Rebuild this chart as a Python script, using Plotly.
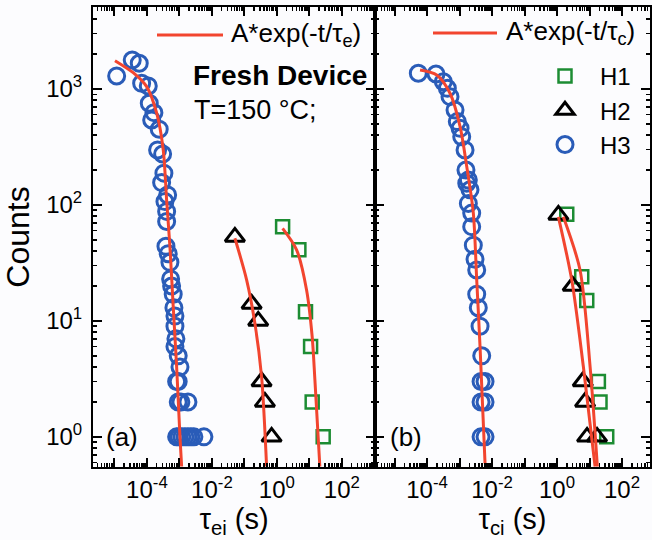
import plotly.graph_objects as go

# ---------------- data ----------------
# Panel (a): emission times tau_ei (s) vs counts
a_h3_t = [1.17e-5, 3.53e-5, 5.8e-5, 6.87e-5, 1.1e-4, 1.18e-4, 1.64e-4, 1.4e-4, 2.39e-4, 2.13e-4,
          3.04e-4, 3.33e-4, 2.83e-4, 4.34e-4, 3.58e-4, 4.04e-4, 4.04e-4, 3.85e-4, 4.52e-4, 5.1e-4,
          5.36e-4, 5.75e-4, 6.44e-4, 6.77e-4, 7.28e-4, 7.28e-4, 7.8e-4, 7.28e-4, 9.18e-4, 1.04e-3,
          9.18e-4, 8.2e-4,
          9.2e-4, 1.11e-3, 1.83e-3,
          8.2e-4, 9.66e-4, 1.19e-3, 1.48e-3, 1.83e-3, 2.26e-3, 2.79e-3, 5.68e-3]
a_h3_c = [1294, 1778, 1667, 1119, 1062, 753, 625, 541, 450, 298,
          275, 188, 156, 122, 107, 88, 72, 44, 38, 32,
          23, 20, 17, 13, 11, 9, 7, 6, 5, 4,
          3, 3,
          2, 2, 2,
          1, 1, 1, 1, 1, 1, 1, 1]
a_h2_t = [0.051, 0.167, 0.266, 0.338, 0.428, 0.687]
a_h2_c = [53, 14, 10, 3, 2, 1]
a_h1_t = [1.5, 4.75, 7.6, 10.9, 12.2, 26.6]
a_h1_c = [65, 41, 12, 6, 2, 1]

# fitted curves in panel (a)
a_fit3_t = [1.04e-5, 3.78e-5, 9.8e-5, 1.99e-4, 3.18e-4, 4.04e-4, 5.1e-4, 6.44e-4, 8.2e-4, 1.04e-3, 1.17e-3]
a_fit3_c = [1754, 1381, 1047, 621, 298, 110, 43.7, 13.3, 4.04, 1.0, 0.555]
a_fit2_t = [0.051, 0.117, 0.21, 0.338, 0.482]
a_fit2_c = [51.6, 22.6, 9.6, 3.3, 0.555]
a_fit1_t = [1.5, 4.04, 8.2, 12.2, 14.8, 21.0]
a_fit1_c = [62.7, 41, 18.5, 7.3, 3.1, 0.555]

# Panel (b): capture times tau_ci (s) vs counts
b_h3_t = [5.4e-5, 1.89e-4, 3.18e-4, 4.22e-4, 5.1e-4, 7.28e-4, 8.55e-4, 1.04e-3, 1.17e-3, 1.48e-3,
          1.58e-3, 1.87e-3, 2.1e-3, 1.67e-3, 1.87e-3, 2.37e-3, 2.37e-3, 2.66e-3, 3.0e-3, 3.38e-3,
          3.38e-3, 3.78e-3, 4.28e-3, 4.82e-3,
          4.6e-3, 6.1e-3, 4.6e-3, 6.1e-3, 4.6e-3, 6.1e-3]
b_h3_c = [1366, 1347, 1156, 1014, 859, 659, 523, 458, 388, 298,
          200, 164, 135, 154, 103, 85, 65, 45, 34, 27.5,
          17, 13, 9, 5,
          3, 3, 2, 2, 1, 1]
b_h2_t = [1.1, 3.04, 6.2, 7.3, 8.4, 17.0]
b_h2_c = [82, 20, 3, 2, 1, 1]
b_h1_t = [1.99, 5.75, 8.2, 18.7, 21.0, 33.8]
b_h1_c = [83, 24, 15, 3, 2, 1]

b_fit3_t = [6.1e-5, 1.99e-4, 5.1e-4, 1.04e-3, 1.67e-3, 2.66e-3, 3.38e-3, 4.28e-3, 6.1e-3]
b_fit3_c = [1458, 1321, 918, 473, 214, 85, 22.6, 6.0, 0.59]
b_fit2_t = [1.1, 2.83, 6.45, 14.8]
b_fit2_c = [79, 22.6, 4.04, 0.555]
b_fit1_t = [1.56, 5.1, 10.4, 17.4]
b_fit1_c = [79, 27.5, 4.04, 0.555]

# axis ticks
y_tickvals = [1, 10, 100, 1000]
y_ticktext = ["10<sup>0</sup>", "10<sup>1</sup>", "10<sup>2</sup>", "10<sup>3</sup>"]
x_tickvals = [1e-5, 1e-4, 1e-3, 1e-2, 1e-1, 1, 10, 100, 1000]
x_ticktext = ["", "10<sup>-4</sup>", "", "10<sup>-2</sup>", "", "10<sup>0</sup>", "", "10<sup>2</sup>", ""]

# ---------------- styling ----------------
FONT = "Liberation Sans, Arial, sans-serif"
RED = "#f2452f"
BLUE = "#2a5cb8"
GREEN = "#1c8c33"
BLACK = "#000000"

fig = go.Figure()

def fit(x, y, xa, ya):
    fig.add_trace(go.Scatter(x=x, y=y, mode="lines", line=dict(color=RED, width=3, shape="spline", smoothing=0.8),
                             xaxis=xa, yaxis=ya, showlegend=False, hoverinfo="skip"))

def pts(x, y, xa, ya, sym, color, size, lw, name, show):
    fig.add_trace(go.Scatter(x=x, y=y, mode="markers", name=name, xaxis=xa, yaxis=ya, showlegend=show,
                             legend="legend",
                             marker=dict(symbol=sym, size=size, color=color, line=dict(width=lw, color=color))))

# panel a
pts(a_h1_t, a_h1_c, "x", "y", "square-open", GREEN, 13, 2.5, "H1", False)
pts(a_h2_t, a_h2_c, "x", "y", "triangle-up-open", BLACK, 17, 3, "H2", False)
pts(a_h3_t, a_h3_c, "x", "y", "circle-open", BLUE, 16, 3, "H3", False)
fit(a_fit3_t, a_fit3_c, "x", "y")
fit(a_fit2_t, a_fit2_c, "x", "y")
fit(a_fit1_t, a_fit1_c, "x", "y")
# panel b
pts(b_h1_t, b_h1_c, "x2", "y2", "square-open", GREEN, 13, 2.5, "H1", True)
pts(b_h2_t, b_h2_c, "x2", "y2", "triangle-up-open", BLACK, 17, 3, "H2", True)
pts(b_h3_t, b_h3_c, "x2", "y2", "circle-open", BLUE, 16, 3, "H3", True)
fit(b_fit3_t, b_fit3_c, "x2", "y2")
fit(b_fit2_t, b_fit2_c, "x2", "y2")
fit(b_fit1_t, b_fit1_c, "x2", "y2")

W, H = 652, 540
L, R, T, B = 93, 2, 7, 73
pw = W - L - R
ph = H - T - B
split = 282 / pw

def px(x):
    return (x - L) / pw

def py(y):
    return 1 - (y - T) / ph

axis_common = dict(type="log", showline=True, linecolor="black", linewidth=2, mirror="ticks", automargin=False,
                   ticks="inside", ticklen=9, tickwidth=2, tickcolor="black", showgrid=False, zeroline=False,
                   minor=dict(ticks="inside", ticklen=4, tickwidth=1.5, tickcolor="black", dtick="D1", showgrid=False),
                   tickfont=dict(family=FONT, size=24, color="black"))

xa = dict(axis_common, domain=[0, split], range=[-5.66, 3.02], anchor="y",
          tickmode="array", tickvals=x_tickvals, ticktext=x_ticktext,
          title=dict(text="τ<sub>ei</sub> (s)", font=dict(family=FONT, size=29, color="black"), standoff=2))
xb = dict(axis_common, domain=[split, 1], range=[-5.6, 2.86], anchor="y2",
          tickmode="array", tickvals=x_tickvals, ticktext=x_ticktext,
          title=dict(text="τ<sub>ci</sub> (s)", font=dict(family=FONT, size=29, color="black"), standoff=2))
ya = dict(axis_common, domain=[0, 1], range=[-0.26, 3.707], anchor="x",
          tickmode="array", tickvals=y_tickvals, ticktext=y_ticktext, ticklabelstandoff=4,
          title=dict(text="Counts", font=dict(family=FONT, size=32, color="black"), standoff=8))
yb = dict(axis_common, domain=[0, 1], range=[-0.26, 3.707], anchor="x2", showticklabels=False,
          tickmode="array", tickvals=y_tickvals)

fig.update_layout(
    width=W, height=H, margin=dict(l=L, r=R, t=T, b=B, autoexpand=False),
    paper_bgcolor="#fcfcfe", plot_bgcolor="#fcfcfe",
    font=dict(family=FONT, size=24, color="black"),
    xaxis=xa, xaxis2=xb, yaxis=ya, yaxis2=yb,
    legend=dict(x=px(530), y=py(54), xanchor="left", yanchor="top", bgcolor="rgba(0,0,0,0)",
                font=dict(family=FONT, size=24, color="black"), itemwidth=60, tracegroupgap=0),
)

# fit-line legend samples
for x0, x1, y0 in [(157, 223, 35), (433, 497, 33)]:
    fig.add_shape(type="line", xref="paper", yref="paper", x0=px(x0), x1=px(x1), y0=py(y0), y1=py(y0),
                  line=dict(color=RED, width=3))

ann = [
    ("A*exp(-t/τ<sub>e</sub>)", 229, 34, 26, False),
    ("A*exp(-t/τ<sub>c</sub>)", 504, 32, 26, False),
    ("Fresh Device", 191, 75, 28, True),
    ("T=150 °C;", 192, 110, 27, False),
    ("(a)", 104, 437, 26, False),
    ("(b)", 388, 437, 26, False),
]
for text, x, y, size, bold in ann:
    fig.add_annotation(text=f"<b>{text}</b>" if bold else text, xref="paper", yref="paper",
                       x=px(x), y=py(y), xanchor="left", yanchor="middle", showarrow=False,
                       font=dict(family=FONT, size=size, color="black"))

fig.write_html("out.html", config={"displayModeBar": False, "staticPlot": True},
               post_script="document.body.style.margin='0px';document.body.style.overflow='hidden';")
